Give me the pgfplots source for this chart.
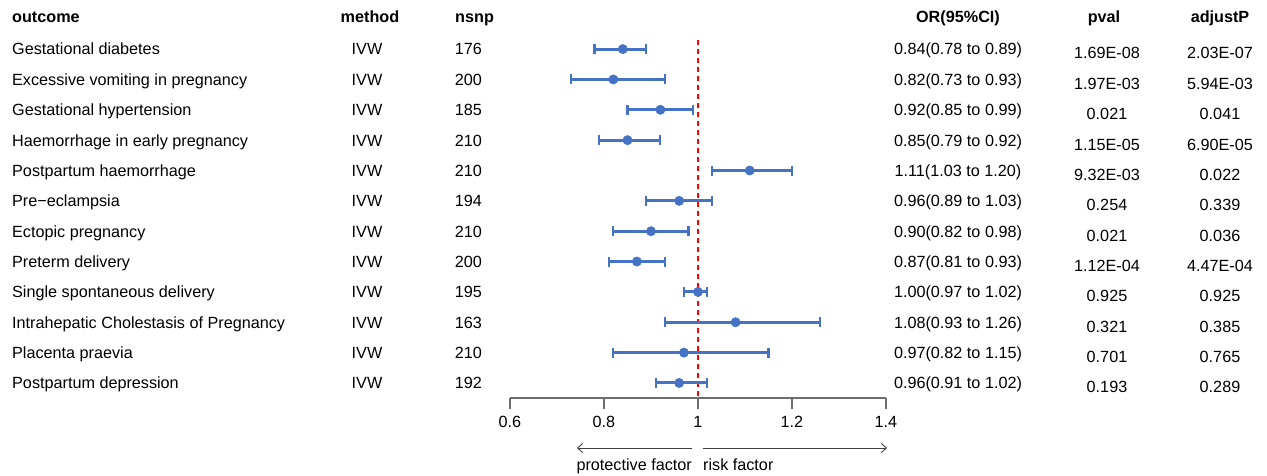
\documentclass[border=0pt]{standalone}
\usepackage{fontspec}
\setmainfont{Liberation Sans}
\usepackage{pgfplots}
\pgfplotsset{compat=1.18}
\usepackage{pgfplotstable}
\usetikzlibrary{arrows.meta}
\definecolor{ptblue}{RGB}{68,114,196}
\definecolor{axgray}{RGB}{110,110,110}

\pgfplotstableread{
row or em ep
1 0.84 0.06 0.05
2 0.82 0.09 0.11
3 0.92 0.07 0.07
4 0.85 0.06 0.07
5 1.11 0.08 0.09
6 0.96 0.07 0.07
7 0.90 0.08 0.08
8 0.87 0.06 0.06
9 1.00 0.03 0.02
10 1.08 0.15 0.18
11 0.97 0.15 0.18
12 0.96 0.05 0.06
}\ordata

\begin{document}
\begin{tikzpicture}[font=\fontsize{16.2}{19}\selectfont]
\useasboundingbox (-510pt,-78pt) rectangle (757pt,398pt);
\begin{axis}[
  scale only axis, width=376pt, height=358pt,
  xmin=0.6, xmax=1.4, ymin=-12.4954, ymax=-0.7,
  axis y line=none, axis x line*=bottom,
  x axis line style={axgray, line width=1.2pt},
  xtick={0.6,0.8,1,1.2,1.4},
  tick align=outside, major tick length=11pt,
  xtick style={axgray, line width=1.2pt},
  xticklabel style={font=\fontsize{16.2}{19}\selectfont, text=black, yshift=-4pt},
  /pgf/number format/assume math mode=true,
  clip=false,
]
\addplot[red, line width=2pt, dash pattern=on 5pt off 4pt] coordinates {(1,-0.7) (1,-12.4954)};
\addplot[draw=none, mark=none, forget plot,
  error bars/x dir=both, error bars/x explicit,
  error bars/error mark=|,
  error bars/error bar style={line width=3pt, ptblue, solid},
  error bars/error mark options={ptblue, line width=2.2pt, mark size=5pt, rotate=0}]
  table[x=or, y expr=-\thisrow{row}, x error plus=ep, x error minus=em] {\ordata};
\addplot[only marks, mark=*, mark size=4.7pt, ptblue]
  table[x=or, y expr=-\thisrow{row}] {\ordata};
\end{axis}
\begin{scope}[x=1pt, y=-1pt, shift={(-510pt,398pt)}]
  \begin{scope}[font=\fontsize{16.2}{19}\selectfont\bfseries]
  \node[anchor=base west, inner sep=0] at (12,23) {outcome};
  \node[anchor=base, inner sep=0] at (370,23) {method};
  \node[anchor=base west, inner sep=0] at (455,23) {nsnp};
  \node[anchor=base, inner sep=0] at (958,23) {OR(95\%CI)};
  \node[anchor=base, inner sep=0] at (1104,23) {pval};
  \node[anchor=base, inner sep=0] at (1220,23) {adjustP};
  \end{scope}
  \foreach \a/\b/\c/\d/\e [count=\i] in {
    Gestational diabetes/176/0.84(0.78 to 0.89)/1.69E-08/2.03E-07,
    Excessive vomiting in pregnancy/200/0.82(0.73 to 0.93)/1.97E-03/5.94E-03,
    Gestational hypertension/185/0.92(0.85 to 0.99)/0.021/0.041,
    Haemorrhage in early pregnancy/210/0.85(0.79 to 0.92)/1.15E-05/6.90E-05,
    Postpartum haemorrhage/210/1.11(1.03 to 1.20)/9.32E-03/0.022,
    Pre−eclampsia/194/0.96(0.89 to 1.03)/0.254/0.339,
    Ectopic pregnancy/210/0.90(0.82 to 0.98)/0.021/0.036,
    Preterm delivery/200/0.87(0.81 to 0.93)/1.12E-04/4.47E-04,
    Single spontaneous delivery/195/1.00(0.97 to 1.02)/0.925/0.925,
    Intrahepatic Cholestasis of Pregnancy/163/1.08(0.93 to 1.26)/0.321/0.385,
    Placenta praevia/210/0.97(0.82 to 1.15)/0.701/0.765,
    Postpartum depression/192/0.96(0.91 to 1.02)/0.193/0.289} {
    \pgfmathsetmacro{\yy}{55+30.36*(\i-1)}
    \pgfmathsetmacro{\yp}{\yy+4}
    \node[anchor=base west, inner sep=0] at (12,\yy) {\a};
    \node[anchor=base, inner sep=0] at (367,\yy) {IVW};
    \node[anchor=base east, inner sep=0] at (482,\yy) {\b};
    \node[anchor=base, inner sep=0] at (958,\yy) {\c};
    \node[anchor=base, inner sep=0] at (1107,\yp) {\d};
    \node[anchor=base, inner sep=0] at (1220,\yp) {\e};
  }
  \draw[black!75, line width=0.9pt, -{Straight Barb[length=5pt,width=9pt]}] (692,448) -- (577,448);
  \draw[black!75, line width=0.9pt, -{Straight Barb[length=5pt,width=9pt]}] (703,448) -- (887,448);
  \node[anchor=base east, inner sep=0] at (692,471) {protective factor};
  \node[anchor=base west, inner sep=0] at (703,471) {risk factor};
\end{scope}
\end{tikzpicture}
\end{document}
